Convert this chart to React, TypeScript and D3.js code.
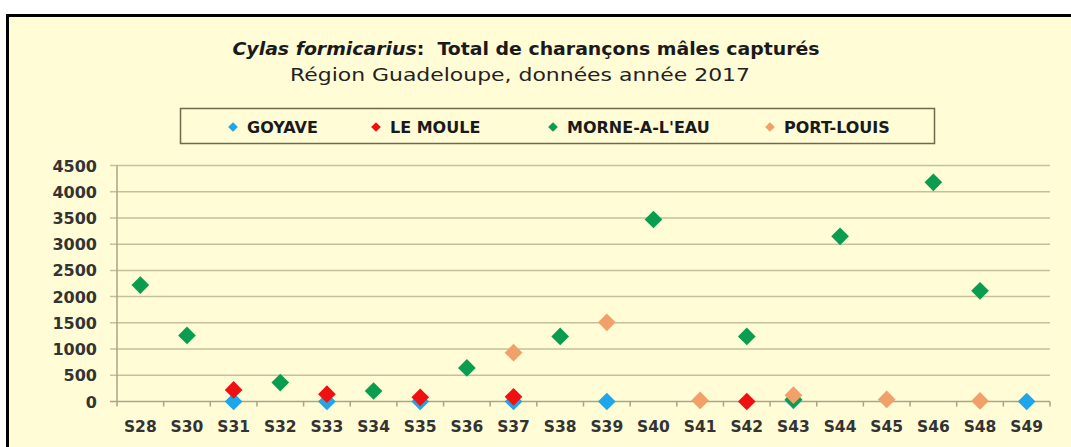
import React, { useEffect, useRef } from 'react';
import * as d3 from 'd3';

// Weeks (x categories)
const weeks = ['S28', 'S30', 'S31', 'S32', 'S33', 'S34', 'S35', 'S36', 'S37', 'S38',
  'S39', 'S40', 'S41', 'S42', 'S43', 'S44', 'S45', 'S46', 'S48', 'S49'];

// Series values, null = no capture recorded
const goyave = [null, null, 0, null, 0, null, 0, null, 0, null,
  0, null, null, null, 20, null, null, null, null, 0];
const leMoule = [null, null, 220, null, 140, null, 80, null, 90, null,
  null, null, null, 0, null, null, null, null, null, null];
const morneALEau = [2220, 1260, null, 360, null, 200, null, 640, null, 1240,
  null, 3470, null, 1240, 40, 3150, null, 4180, 2110, null];
const portLouis = [null, null, null, null, null, null, null, null, 930, null,
  1510, null, 20, null, 120, null, 40, null, 10, null];

const yTicks = [0, 500, 1000, 1500, 2000, 2500, 3000, 3500, 4000, 4500];

const series = [
  { name: 'GOYAVE', values: goyave, color: '#1ea6ea' },
  { name: 'LE MOULE', values: leMoule, color: '#f01010' },
  { name: "MORNE-A-L'EAU", values: morneALEau, color: '#0a9d50' },
  { name: 'PORT-LOUIS', values: portLouis, color: '#f2a06a' },
];

const FONT = '"DejaVu Sans", Verdana, sans-serif';

const App = () => {
  const svgRef = useRef(null);

  useEffect(() => {
    const width = 1071;
    const height = 447;
    const plot = { left: 117, right: 1050, top: 165.5, bottom: 401.5 };

    const svg = d3.select(svgRef.current);
    svg.selectAll('*').remove();
    svg.attr('width', width).attr('height', height);

    // Background frame
    svg.append('rect').attr('width', width).attr('height', height).attr('fill', '#ffffff');
    svg.append('rect')
      .attr('x', 7.5).attr('y', 15.5)
      .attr('width', width + 20).attr('height', height + 20)
      .attr('fill', '#fffcd6')
      .attr('stroke', '#000').attr('stroke-width', 3);

    // Title
    const title = svg.append('text')
      .attr('x', 526).attr('y', 55)
      .attr('text-anchor', 'middle')
      .attr('textLength', 587)
      .attr('lengthAdjust', 'spacingAndGlyphs')
      .style('font-family', FONT)
      .style('font-size', '17.5px')
      .style('font-weight', 'bold')
      .style('white-space', 'pre')
      .attr('fill', '#1a1a1a');
    title.append('tspan').style('font-style', 'italic').text('Cylas formicarius');
    title.append('tspan').text(':  Total de charançons mâles capturés');

    svg.append('text')
      .attr('x', 520).attr('y', 81)
      .attr('text-anchor', 'middle')
      .attr('textLength', 460)
      .attr('lengthAdjust', 'spacingAndGlyphs')
      .style('font-family', FONT)
      .style('font-size', '17px')
      .attr('fill', '#222')
      .text('Région Guadeloupe, données année 2017');

    // Legend
    svg.append('rect')
      .attr('x', 180.5).attr('y', 108.5)
      .attr('width', 754).attr('height', 35)
      .attr('fill', 'none')
      .attr('stroke', '#6e6a4c').attr('stroke-width', 1.5);

    const legendX = [233, 376, 553, 770];
    const smallDiamond = d3.symbol().type(d3.symbolDiamond2).size(60);
    series.forEach((s, i) => {
      svg.append('path')
        .attr('d', smallDiamond())
        .attr('transform', `translate(${legendX[i]},127)`)
        .attr('fill', s.color);
      svg.append('text')
        .attr('x', legendX[i] + 14).attr('y', 133)
        .style('font-family', FONT)
        .style('font-size', '16px')
        .style('font-weight', 'bold')
        .attr('fill', '#1a1a1a')
        .text(s.name);
    });

    // Scales
    const x = d3.scaleBand().domain(weeks).range([plot.left, plot.right]);
    const y = d3.scaleLinear().domain([0, 4500]).range([plot.bottom, plot.top]);

    // Gridlines
    svg.append('g')
      .selectAll('line')
      .data(yTicks)
      .enter().append('line')
      .attr('x1', plot.left - 7).attr('x2', plot.right)
      .attr('y1', d => y(d)).attr('y2', d => y(d))
      .attr('stroke', d => (d === 0 ? '#a9a588' : '#c4bf9c'))
      .attr('stroke-width', 1.5);

    // Y axis line
    svg.append('line')
      .attr('x1', plot.left).attr('x2', plot.left)
      .attr('y1', plot.top).attr('y2', plot.bottom + 5)
      .attr('stroke', '#a9a588').attr('stroke-width', 1.5);

    // Y labels
    svg.append('g')
      .selectAll('text')
      .data(yTicks)
      .enter().append('text')
      .attr('x', 97).attr('y', d => y(d) + 6)
      .attr('text-anchor', 'end')
      .style('font-family', FONT)
      .style('font-size', '16px')
      .style('font-weight', 'bold')
      .attr('fill', '#333')
      .text(d => d);

    // X ticks at band boundaries
    svg.append('g')
      .selectAll('line')
      .data(weeks)
      .enter().append('line')
      .attr('x1', d => x(d) + x.bandwidth()).attr('x2', d => x(d) + x.bandwidth())
      .attr('y1', plot.bottom).attr('y2', plot.bottom + 5)
      .attr('stroke', '#a9a588').attr('stroke-width', 1.5);

    // X labels
    svg.append('g')
      .selectAll('text')
      .data(weeks)
      .enter().append('text')
      .attr('x', d => x(d) + x.bandwidth() / 2)
      .attr('y', 432)
      .attr('text-anchor', 'middle')
      .style('font-family', FONT)
      .style('font-size', '15.5px')
      .style('font-weight', 'bold')
      .attr('fill', '#333')
      .text(d => d);

    // Markers
    const diamond = d3.symbol().type(d3.symbolDiamond2).size(200);
    series.forEach((s) => {
      svg.append('g')
        .selectAll('path')
        .data(s.values.map((v, i) => ({ v, w: weeks[i] })).filter(d => d.v !== null))
        .enter().append('path')
        .attr('d', diamond())
        .attr('transform', d => `translate(${x(d.w) + x.bandwidth() / 2},${y(d.v)})`)
        .attr('fill', s.color);
    });
  }, []);

  return <svg ref={svgRef} style={{ position: 'absolute', left: 0, top: 0, display: 'block' }}></svg>;
};

export default App;
